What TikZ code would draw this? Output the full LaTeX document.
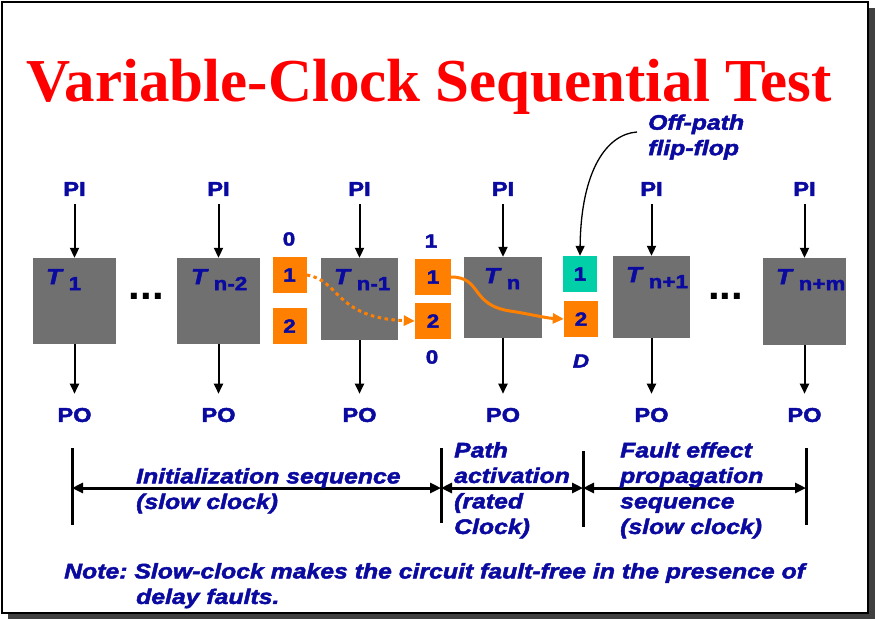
\documentclass[tikz,border=0pt]{standalone}
\usepackage{fontspec}
\setmainfont{Liberation Serif}
\setsansfont{Liberation Sans}
\newfontfamily\slidefont[FakeStretch=1.18, FakeBold=2.2]{Liberation Sans}
\usetikzlibrary{arrows.meta}
\definecolor{titlered}{HTML}{FF0000}
\definecolor{slideblue}{HTML}{0A0AA0}
\definecolor{blockgray}{HTML}{707070}
\definecolor{ffonrange}{HTML}{FF8000}
\definecolor{ffgreen}{HTML}{00CFA8}
\definecolor{shadowgray}{HTML}{404040}

\newcommand{\tsub}[1]{{\fontsize{22}{22}\selectfont\textit{T}}\hspace{5pt}\raisebox{-6pt}{#1}}

\begin{document}
\frenchspacing
\begin{tikzpicture}[x=1pt, y=-1pt,
    blk/.style={fill=blockgray, inner sep=0pt},
    tlab/.style={text=slideblue, inner sep=0pt, font=\slidefont\bfseries\fontsize{19}{19}\selectfont},
    ff/.style={fill=ffonrange, text=slideblue, inner sep=0pt, minimum width=34pt, minimum height=36pt,
               font=\slidefont\bfseries\fontsize{19}{19}\selectfont},
    val/.style={text=slideblue, inner sep=0pt, font=\slidefont\bfseries\fontsize{19}{19}\selectfont},
    pilab/.style={text=slideblue, inner sep=8pt, font=\slidefont\bfseries\fontsize{20}{20}\selectfont},
    polab/.style={pilab, inner sep=14pt},
    lbl/.style={text=slideblue, inner sep=0pt, align=left,
                font=\slidefont\bfseries\itshape\fontsize{21}{25.5}\selectfont},
    sig/.style={-{Triangle[length=10pt, width=9pt]}, line width=2pt},
    path/.style={-{Triangle[length=11pt, width=10pt]}, ffonrange, line width=3pt},
    span/.style={{Triangle[length=11pt, width=10pt]}-{Triangle[length=11pt, width=10pt]}, line width=3pt},
    bar/.style={line width=3pt},
    dots/.style={inner sep=0pt, font=\sffamily\bfseries\fontsize{42}{42}\selectfont},
  ]
  \useasboundingbox (0,0) rectangle (875,619);
  \fill[white] (0,0) rectangle (875,619);

  % slide frame with its shadow
  \fill[shadowgray] (8,8) rectangle (875,619);
  \fill[white, draw=black, line width=2pt] (2,2) rectangle (868,613);

  \node[font=\bfseries\fontsize{61}{61}\selectfont, text=titlered, anchor=base, inner sep=0pt] (title) at (429,101.5)
    {Variable-Clock Sequential Test};

  % time frames: id / center x / center y / width / height / index / label offset
  \foreach \id/\cx/\cy/\w/\h/\sub/\tx in {a/74.5/301/83/86/1/13, b/218.5/301/83/86/n-2/14,
                                          c/359.5/299/77/82/n-1/13, d/503/297.5/78/81/n/20,
                                          e/651.5/297/77/82/n+1/13, f/804.5/301.5/83/87/n+m/13}{
    \node[blk, minimum width=\w pt, minimum height=\h pt] (T\id) at (\cx,\cy) {};
    \node[tlab, anchor=north west] (lab\id) at ([xshift=\tx pt, yshift=-11pt]T\id.north west) {\tsub{\sub}};
    \node[pilab] (pi\id) at (\cx,189) {PI};
    \node[polab] (po\id) at (\cx,415) {PO};
    \draw[sig] (pi\id) -- (T\id);
    \draw[sig] (T\id) -- (po\id);
  }

  \node[dots] (dotsl) at (146.5,296) {...};
  \node[dots] (dotsr) at (725.5,296) {...};

  % flip-flops between the frames
  \node[ff] (ffa1) at (289.5,275) {1};
  \node[ff] (ffa2) at (289.5,326) {2};
  \node[ff, minimum width=36pt] (ffb1) at (433,277) {1};
  \node[ff, minimum width=36pt] (ffb2) at (433,321) {2};
  \node[ff, fill=ffgreen] (ffc1) at (580,274) {1};
  \node[ff] (ffc2) at (581,319) {2};

  \node[val] (va) at (289,239) {0};
  \node[val] (vb1) at (431,241) {1};
  \node[val] (vb2) at (432,357) {0};
  \node[val, font=\slidefont\bfseries\itshape\fontsize{19}{19}\selectfont] (vc) at (581,361) {D};

  % activated path
  \draw[path, dash pattern=on 3.5pt off 3.5pt] (ffa1.east) .. controls (340,280) and (335,318) .. (ffb2.west);
  \draw[path] (ffb1.east) .. controls (482,277) and (470,305) .. (510,311)
                          .. controls (530,314) and (545,318) .. (ffc2.west);

  \node[lbl, anchor=west, inner xsep=11pt] (offpath) at (637,137) {Off-path\\flip-flop};
  \draw[sig, line width=1.3pt] ([yshift=5pt]offpath.west) .. controls (607,134) and (581,170) .. (ffc1.north);

  % test sequence phases
  \coordinate (s1t) at (72,448);  \coordinate (s1b) at (72,525);
  \coordinate (s2t) at (441,448); \coordinate (s2b) at (441,523);
  \coordinate (s3t) at (583,451); \coordinate (s3b) at (583,527);
  \coordinate (s4t) at (806,448); \coordinate (s4b) at (806,525);
  \foreach \s in {1,2,3,4}{
    \draw[bar] (s\s t) -- (s\s b);
  }
  \coordinate (m1) at (72,488);
  \coordinate (m2) at (441,488);
  \coordinate (m3) at (583,488);
  \coordinate (m4) at (806,488);
  \draw[span] (m1) -- (m2);
  \draw[span] (m2) -- (m3);
  \draw[span] (m3) -- (m4);

  \node[lbl, anchor=north west] (init) at (136,468) {Initialization sequence\\(slow clock)};
  \node[lbl, anchor=north west] (activ) at (454,442) {Path\\activation\\(rated\\Clock)};
  \node[lbl, anchor=north west] (propag) at (620,442) {Fault effect\\propagation\\sequence\\(slow clock)};

  \node[lbl, anchor=north west] (note) at (64,563)
    {Note: Slow-clock makes the circuit fault-free in the presence of\\
     \hspace*{72pt}delay faults.};
\end{tikzpicture}
\end{document}
